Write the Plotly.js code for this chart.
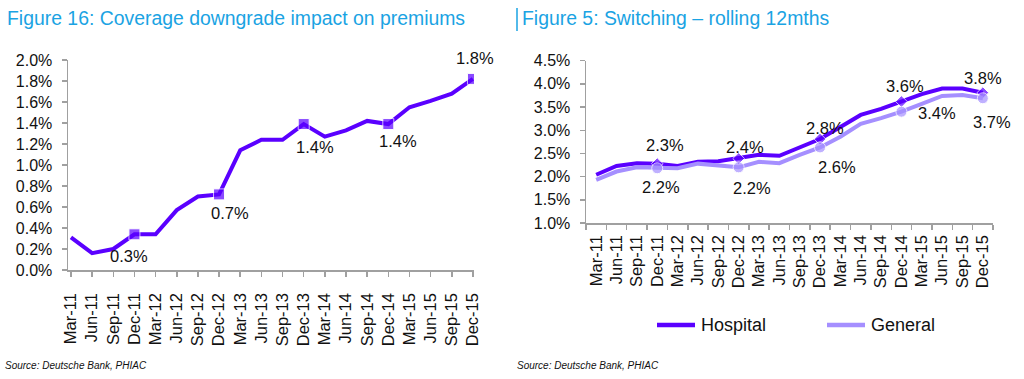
<!DOCTYPE html>
<html>
<head>
<meta charset="utf-8">
<script src="https://cdn.plot.ly/plotly-3.0.1.min.js"></script>
<style>
html,body{margin:0;padding:0;background:#fff;}
#chart{width:1024px;height:379px;}
</style>
</head>
<body>
<div id="chart"></div>
<script>
// ---- data ----
const categories = ['Mar-11','Jun-11','Sep-11','Dec-11','Mar-12','Jun-12','Sep-12','Dec-12','Mar-13','Jun-13','Sep-13','Dec-13','Mar-14','Jun-14','Sep-14','Dec-14','Mar-15','Jun-15','Sep-15','Dec-15'];
const premiumImpact = [0.31,0.16,0.20,0.34,0.34,0.57,0.70,0.72,1.14,1.24,1.24,1.39,1.27,1.33,1.42,1.39,1.55,1.61,1.68,1.82];
const hospital = [2.04,2.23,2.29,2.28,2.23,2.32,2.33,2.39,2.47,2.45,2.63,2.81,3.07,3.33,3.46,3.62,3.78,3.90,3.90,3.81];
const general  = [1.93,2.11,2.20,2.18,2.18,2.28,2.23,2.20,2.32,2.29,2.47,2.63,2.86,3.14,3.26,3.40,3.57,3.74,3.76,3.69];
const labelIdx = [3,7,11,15,19];
const seriesNames = ['Hospital','General'];
const titles = ['Figure 16: Coverage downgrade impact on premiums','Figure 5: Switching \u2013 rolling 12mths'];
const sourceText = 'Source: Deutsche Bank, PHIAC';

// ---- styles ----
const W = 1024, H = 379;
const FONT = 'Liberation Sans, Arial, sans-serif';
const DARK = '#5a00ff';
const LIGHT = '#a58fff';
const BLUE = '#1aa3e3';
const AXIS = '#a0a0a0';
const px = v => v / W;
const py = v => 1 - v / H;

const sizeAt = (s) => categories.map((_, i) => labelIdx.includes(i) ? s : 0);

const traces = [
  {x: categories, y: premiumImpact, xaxis: 'x', yaxis: 'y', mode: 'lines+markers', showlegend: false,
   line: {color: DARK, width: 4}, marker: {symbol: 'square', size: sizeAt(11), color: DARK}},
  {x: categories, y: hospital, xaxis: 'x2', yaxis: 'y2', mode: 'lines+markers', name: seriesNames[0], showlegend: false,
   line: {color: DARK, width: 4}, marker: {symbol: 'diamond', size: sizeAt(9), color: DARK}},
  {x: categories, y: general, xaxis: 'x2', yaxis: 'y2', mode: 'lines+markers', name: seriesNames[1], showlegend: false,
   line: {color: LIGHT, width: 4}, marker: {symbol: 'circle', size: sizeAt(11), color: LIGHT}}
];

// label offsets (pixels) for the annotated points
const premShift = [[-5,-22],[11,-19],[11,-23],[10,-17],[2,21]];
const hospShift = [[8,19],[6,12],[5,11],[4,16],[0,15]];
const genShift  = [[4,-19],[13,-21],[17,-20],[36,-1],[9,-24]];

const labFont = {family: FONT, size: 16.5, color: '#111'};
const annotations = [];
function addLabels(vals, shifts, xr, yr) {
  labelIdx.forEach((idx, k) => {
    annotations.push({x: categories[idx], y: vals[idx], xref: xr, yref: yr, showarrow: false,
      text: vals[idx].toFixed(1) + '%', font: labFont, xshift: shifts[k][0], yshift: shifts[k][1]});
  });
}
addLabels(premiumImpact, premShift, 'x', 'y');
addLabels(hospital, hospShift, 'x2', 'y2');
addLabels(general, genShift, 'x2', 'y2');

// titles and sources
const titleFont = {family: FONT, size: 19.4, color: BLUE};
annotations.push({xref: 'paper', yref: 'paper', x: px(5), y: py(18.5), xanchor: 'left', yanchor: 'middle',
  text: titles[0], showarrow: false, font: titleFont});
annotations.push({xref: 'paper', yref: 'paper', x: px(520), y: py(18.5), xanchor: 'left', yanchor: 'middle',
  text: titles[1], showarrow: false, font: titleFont});
const srcFont = {family: FONT, size: 10, color: '#111', style: 'italic'};
annotations.push({xref: 'paper', yref: 'paper', x: px(3), y: py(365), xanchor: 'left', yanchor: 'middle',
  text: sourceText, showarrow: false, font: srcFont});
annotations.push({xref: 'paper', yref: 'paper', x: px(515), y: py(365), xanchor: 'left', yanchor: 'middle',
  text: sourceText, showarrow: false, font: srcFont});

const shapes = [
  {type: 'line', xref: 'paper', yref: 'paper', x0: px(517), x1: px(517), y0: py(8), y1: py(31),
   line: {color: BLUE, width: 1.5}}
];

// manual legend
const legendItems = [{name: seriesNames[0], color: DARK, x: 657}, {name: seriesNames[1], color: LIGHT, x: 827}];
legendItems.forEach(it => {
  shapes.push({type: 'line', xref: 'paper', yref: 'paper', x0: px(it.x), x1: px(it.x + 38), y0: py(325), y1: py(325),
    line: {color: it.color, width: 4.5}});
  annotations.push({xref: 'paper', yref: 'paper', x: px(it.x + 42), y: py(325), xanchor: 'left', yanchor: 'middle',
    text: it.name, showarrow: false, font: {family: FONT, size: 18, color: '#111'}});
});

const tickFontY = {family: FONT, size: 16, color: '#111'};
const tickFontX = {family: FONT, size: 16.5, color: '#111'};
const commonX = {type: 'category', showgrid: false, zeroline: false, showline: true, linecolor: AXIS, linewidth: 1.5,
  ticks: 'outside', ticklen: 5, tickcolor: AXIS, tickwidth: 1.5, tickangle: -90, tickfont: tickFontX, fixedrange: true,
  tickmode: 'array', tickvals: categories, ticktext: categories, automargin: false};
const commonY = {showgrid: false, zeroline: false, showline: true, linecolor: AXIS, linewidth: 1.5,
  ticks: 'outside', ticklen: 5, tickcolor: AXIS, tickwidth: 1.5, tickfont: tickFontY,
  tickformat: '.1f', ticksuffix: '%', fixedrange: true, ticklabelstandoff: 6, automargin: false};

const layout = {
  width: W, height: H, margin: {l: 0, r: 0, t: 0, b: 0, pad: 0}, paper_bgcolor: '#fff', plot_bgcolor: 'rgba(0,0,0,0)',
  font: {family: FONT},
  xaxis: Object.assign({}, commonX, {domain: [px(68), px(474)], range: [-0.14, 19.05], anchor: 'y', ticklabelstandoff: 10}),
  yaxis: Object.assign({}, commonY, {domain: [py(270), py(60)], range: [0, 2.0], dtick: 0.2, anchor: 'x'}),
  xaxis2: Object.assign({}, commonX, {domain: [px(586), px(993)], range: [-0.5, 19.5], tickson: 'boundaries', anchor: 'y2', ticklabelstandoff: 4}),
  yaxis2: Object.assign({}, commonY, {domain: [py(223), py(60.7)], range: [1.0, 4.5], dtick: 0.5, anchor: 'x2'}),
  showlegend: false,
  annotations: annotations,
  shapes: shapes
};

Plotly.newPlot('chart', traces, layout, {displayModeBar: false, staticPlot: true});
</script>
</body>
</html>
